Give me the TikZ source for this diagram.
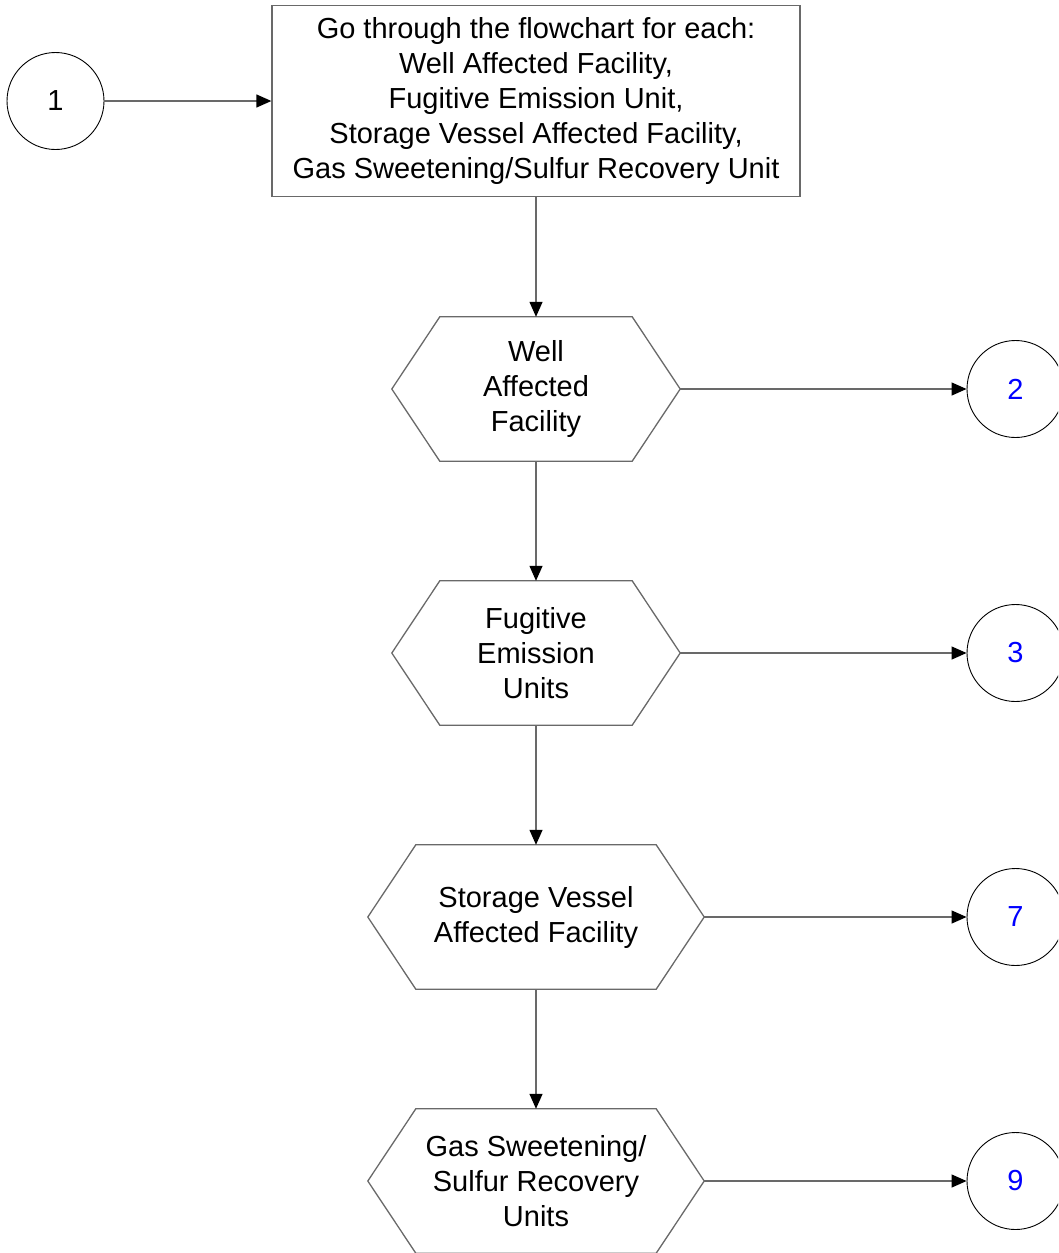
\documentclass[tikz,border=0pt]{standalone}
\usepackage{fontspec}
\setmainfont{Liberation Sans}
\usetikzlibrary{arrows.meta}
\definecolor{lnk}{RGB}{0,0,255}
\definecolor{edge}{RGB}{105,105,105}
\begin{document}
\begin{tikzpicture}[x=1pt,y=-1pt,
  every node/.style={font=\fontsize{29}{35}\selectfont, inner sep=0pt, align=center},
  circ/.style={draw=black, line width=0.9pt, circle, minimum size=97pt},
  boxs/.style={draw=edge, line width=1.3pt, minimum width=528pt, minimum height=191pt},
  hexin/.style={minimum height=144pt},
  hexline/.style={draw=edge, line width=1.3pt, line join=miter},
  arr/.style={draw=edge, line width=1.3pt, -{Triangle[length=15pt,width=13pt,color=black,fill=black]}}]
\clip (0,0) rectangle (1058,1253);
\useasboundingbox (0,0) rectangle (1058,1253);
\fill[white] (0,0) rectangle (1058,1253);

\node[circ] (c1) at (55.5,101) {1};
\node[boxs] (b) at (536,101) {Go through the flowchart for each:\\Well Affected Facility,\\Fugitive Emission Unit,\\Storage Vessel Affected Facility,\\Gas Sweetening/Sulfur Recovery Unit};

\node[hexin, minimum width=192pt] (h1) at (536,389) {Well\\Affected\\Facility};
\node[hexin, minimum width=192pt] (h2) at (536,653) {Fugitive\\Emission\\Units};
\node[hexin, minimum width=240pt] (h3) at (536,917) {Storage Vessel\\Affected Facility};
\node[hexin, minimum width=240pt] (h4) at (536,1181) {Gas Sweetening/\\Sulfur Recovery\\Units};

\foreach \h in {h1,h2,h3,h4}{
  \coordinate (\h r) at ([xshift=48pt]\h.east);
  \coordinate (\h l) at ([xshift=-48pt]\h.west);
  \draw[hexline] (\h.north west) -- (\h.north east) -- (\h r) -- (\h.south east) -- (\h.south west) -- (\h l) -- cycle;
}

\node[circ, text=lnk] (c2) at (1015.5,389) {2};
\node[circ, text=lnk] (c3) at (1015.5,653) {3};
\node[circ, text=lnk] (c7) at (1015.5,917) {7};
\node[circ, text=lnk] (c9) at (1015.5,1181) {9};

\draw[arr] (c1) -- (b.west);
\draw[arr] (b.south) -- (h1.north);
\draw[arr] (h1.south) -- (h2.north);
\draw[arr] (h2.south) -- (h3.north);
\draw[arr] (h3.south) -- (h4.north);
\draw[arr] (h1r) -- (c2);
\draw[arr] (h2r) -- (c3);
\draw[arr] (h3r) -- (c7);
\draw[arr] (h4r) -- (c9);
\end{tikzpicture}
\end{document}
